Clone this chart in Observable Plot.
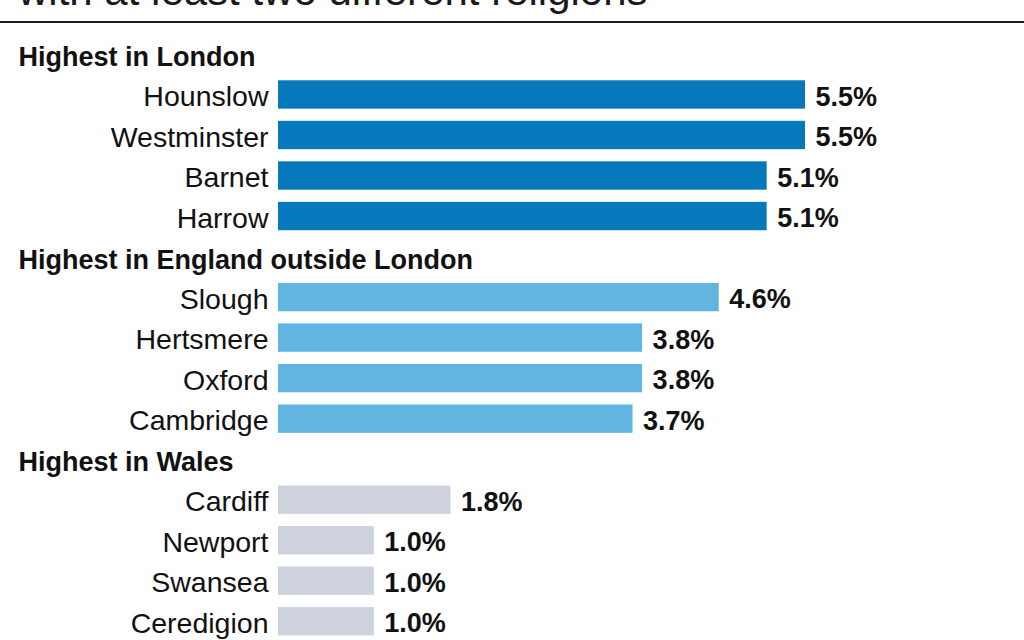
<!DOCTYPE html>
<html>
<head>
<meta charset="utf-8">
<script src="https://cdn.jsdelivr.net/npm/d3@7"></script>
<script src="https://cdn.jsdelivr.net/npm/@observablehq/plot@0.6"></script>
<style>
  html, body { margin: 0; padding: 0; background: #fff; }
  body { width: 1024px; height: 640px; overflow: hidden; font-family: "Liberation Sans", Arial, sans-serif; }
  #title {
    position: relative; height: 21px; overflow: hidden;
    border-bottom: 2px solid #1e1e1e;
  }
  #title span {
    position: absolute; left: 18px; top: -30px;
    font-size: 42px; line-height: 42px; color: #1a1a1a; white-space: nowrap;
  }
  #chart svg { display: block; }
</style>
</head>
<body>
<div id="title"><span>with at least two different religions</span></div>
<div id="chart"></div>
<script>
// Share of households with at least two different religions, top areas by region
const sections = ["Highest in London", "Highest in England outside London", "Highest in Wales"];
const regions = ["London", "England", "Wales"];
const places = [
  ["Hounslow", "Westminster", "Barnet", "Harrow"],
  ["Slough", "Hertsmere", "Oxford", "Cambridge"],
  ["Cardiff", "Newport", "Swansea", "Ceredigion"]
];
const shares = [
  [5.5, 5.5, 5.1, 5.1],
  [4.6, 3.8, 3.8, 3.7],
  [1.8, 1.0, 1.0, 1.0]
];
const regionColors = ["#0679bd", "#62b5e0", "#ced2dc"];

// Flat table of bars, plus the row order (a header row before each group)
const data = [];
const rows = [];
sections.forEach((s, i) => {
  rows.push(s);
  places[i].forEach((p, j) => {
    rows.push(p);
    data.push({place: p, share: shares[i][j], region: regions[i]});
  });
});

const step = 40.52;
const r0 = 10.7;

const chart = Plot.plot({
  width: 1024,
  height: 617,
  marginLeft: 278,
  marginRight: 219,
  marginTop: 0,
  marginBottom: 0,
  style: {fontFamily: "'Liberation Sans', Arial, sans-serif", color: "#111"},
  x: {domain: [0, 5.5], axis: null},
  y: {
    domain: rows, range: [r0, r0 + step * rows.length], round: false,
    paddingInner: 0.3, paddingOuter: 0.15, axis: null
  },
  color: {domain: regions, range: regionColors},
  marks: [
    Plot.barX(data, {x: "share", y: "place", fill: "region"}),
    Plot.text(data, {
      x: "share", y: "place", text: d => d.share.toFixed(1) + "%",
      textAnchor: "start", dx: 10, dy: 2, fontSize: 27, fontWeight: "bold", fill: "#111"
    }),
    Plot.text(data, {
      x: () => 0, y: "place", text: "place",
      textAnchor: "end", dx: -10, dy: 2, fontSize: 28.5, fill: "#111"
    }),
    Plot.text(sections, {
      y: d => d, text: d => d, frameAnchor: "left",
      textAnchor: "start", dx: -260, dy: 3, fontSize: 27, fontWeight: "bold", fill: "#111"
    })
  ]
});

document.getElementById("chart").appendChild(chart);
</script>
</body>
</html>
